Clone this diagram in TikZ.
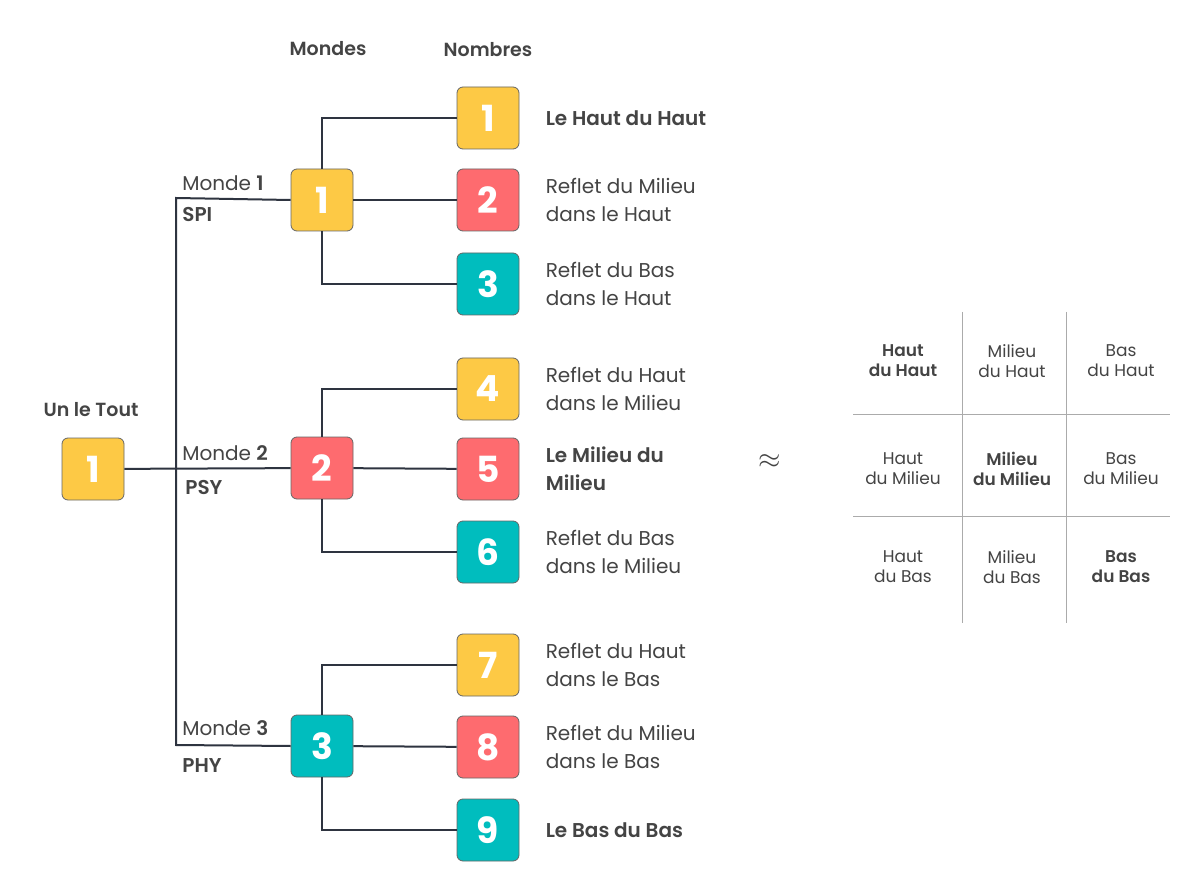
\documentclass[tikz,border=0pt]{standalone}
\usepackage{fontspec}
\setmainfont{Poppins}[BoldFont={* SemiBold}]
\newfontfamily\lkchiffre{Poppins}[UprightFont={* Bold}]
\usepackage{xcolor}
\definecolor{lkjaune}{HTML}{FDC945}
\definecolor{lkrouge}{HTML}{FE6B6F}
\definecolor{lkturq}{HTML}{00BDBE}
\definecolor{lkencre}{HTML}{2E3440}
\definecolor{lktexte}{HTML}{444444}
\definecolor{lkgrille}{HTML}{ABABAB}
\usetikzlibrary{positioning}

\begin{document}
\begin{tikzpicture}[x=0.5pt,y=-0.5pt]
\tikzset{
 b/.style={draw=gray!80!black,line width=0.4pt,rounded corners=3pt,minimum size=31pt,inner sep=0pt,text=white,font=\fontsize{18}{18}\selectfont\lkchiffre},
 by/.style={b,fill=lkjaune},
 br/.style={b,fill=lkrouge},
 bt/.style={b,fill=lkturq},
 t/.style={anchor=west,align=left,inner sep=0pt,text=lktexte,font=\fontsize{10}{14}\selectfont},
 h/.style={text=lktexte,font=\fontsize{9.5}{14}\selectfont\bfseries},
 c/.style={align=center,text=lktexte,font=\fontsize{8.5}{10}\selectfont},
 l/.style={draw=lkencre,line width=1pt},
 g/.style={draw=lkgrille,line width=0.5pt}
}
\useasboundingbox[fill=white] (0,0) rectangle (1200,893);
% en-tetes
\node[h] (mondes) at (328,49) {Mondes};
\node[h] (nombres) at (488,50) {Nombres};
% un le tout et les trois mondes
\node[by] (tout) at (93,469) {1};
\node[h] (toutlbl) at (91,410) {Un le Tout};
\node[by] (m1) at (322,200) {1};
\node[br] (m2) at (322,468) {2};
\node[bt] (m3) at (322,746) {3};
\node[t] (m1lbl) at (182,183) {Monde \textbf{1}};
\node[t] (m1nom) at (182,214) {\textbf{SPI}};
\node[t] (m2lbl) at (182,453) {Monde \textbf{2}};
\node[t] (m2nom) at (185,487) {\textbf{PSY}};
\node[t] (m3lbl) at (182,728) {Monde \textbf{3}};
\node[t] (m3nom) at (182,766) {\textbf{PHY}};
% les neuf nombres
\foreach \i/\y/\s in {1/118/by,2/200/br,3/284/bt,4/389/by,5/469/br,6/552/bt,7/665/by,8/747/br,9/830/bt}
  \node[\s] (n\i) at (488,\y) {\i};
\node[t,right=13pt of n1] (n1lbl) {\textbf{Le Haut du Haut}};
\node[t,right=13pt of n2] (n2lbl) {Reflet du Milieu\\dans le Haut};
\node[t,right=13pt of n3] (n3lbl) {Reflet du Bas\\dans le Haut};
\node[t,right=13pt of n4] (n4lbl) {Reflet du Haut\\dans le Milieu};
\node[t,right=13pt of n5] (n5lbl) {\textbf{Le Milieu du}\\\textbf{Milieu}};
\node[t,right=13pt of n6] (n6lbl) {Reflet du Bas\\dans le Milieu};
\node[t,right=13pt of n7] (n7lbl) {Reflet du Haut\\dans le Bas};
\node[t,right=13pt of n8] (n8lbl) {Reflet du Milieu\\dans le Bas};
\node[t,right=13pt of n9] (n9lbl) {\textbf{Le Bas du Bas}};
% liaisons
\coordinate (tr1) at (176,198);
\coordinate (tr3) at (176,745);
\draw[l] (tout) -- (m2);
\draw[l] (m1.west) -- (tr1) -- (tr3) -- (m3.west);
\foreach \m/\a/\b/\c in {m1/n1/n2/n3,m2/n4/n5/n6,m3/n7/n8/n9} {
  \draw[l] (\m.north) |- (\a);
  \draw[l] (\m) -- (\b);
  \draw[l] (\m.south) |- (\c);
}
\node[text=lktexte,font=\Large] (environ) at (770,462) {$\approx$};
% grille
\draw[g] (962,312) -- (962,623);
\draw[g] (1066,312) -- (1066,623);
\draw[g] (853,414) -- (1170,414);
\draw[g] (853,516) -- (1170,516);
\node[c] (hh) at (903,361) {\textbf{Haut}\\\textbf{du Haut}};
\node[c] (mh) at (1012,361) {Milieu\\du Haut};
\node[c] (bh) at (1121,361) {Bas\\du Haut};
\node[c] (hm) at (903,469) {Haut\\du Milieu};
\node[c] (mm) at (1012,469) {\textbf{Milieu}\\\textbf{du Milieu}};
\node[c] (bm) at (1121,469) {Bas\\du Milieu};
\node[c] (hb) at (903,567) {Haut\\du Bas};
\node[c] (mb) at (1012,567) {Milieu\\du Bas};
\node[c] (bb) at (1121,567) {\textbf{Bas}\\\textbf{du Bas}};
\end{tikzpicture}
\end{document}
